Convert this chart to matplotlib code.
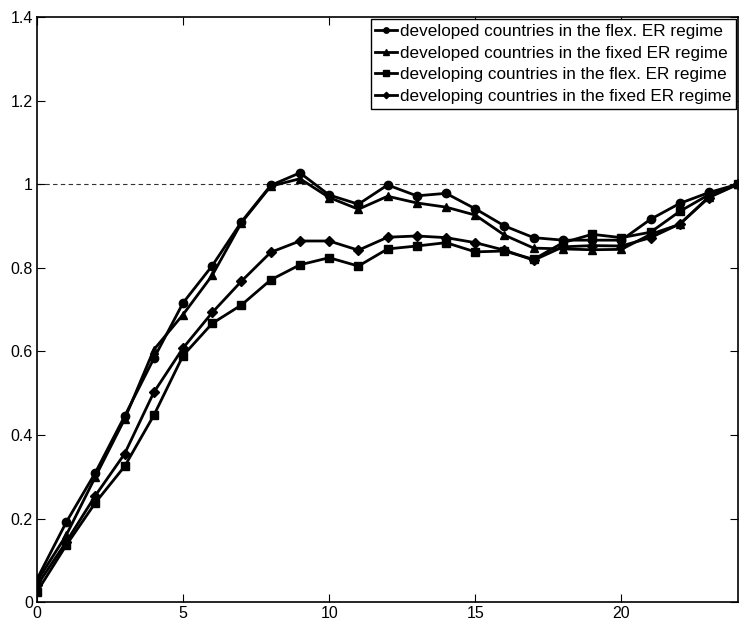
import matplotlib
matplotlib.use('Agg')
import matplotlib.pyplot as plt
from matplotlib.ticker import FixedLocator, FixedFormatter

plt.rcParams['font.family'] = ['Liberation Sans', 'DejaVu Sans']

# =============================================================================
# data
# =============================================================================
horizon = list(range(25))

dev_flex = [0.055, 0.191, 0.31, 0.445, 0.583, 0.716, 0.805, 0.91, 0.997, 1.027,
            0.974, 0.952, 0.998, 0.972, 0.978, 0.941, 0.900, 0.872, 0.866, 0.866,
            0.866, 0.916, 0.954, 0.980, 1.0]
dev_fixed = [0.05, 0.160, 0.30, 0.438, 0.604, 0.688, 0.782, 0.908, 0.995, 1.013,
             0.968, 0.940, 0.971, 0.955, 0.945, 0.926, 0.878, 0.847, 0.845, 0.843,
             0.844, 0.880, 0.904, 0.970, 1.0]
dvg_flex = [0.025, 0.136, 0.238, 0.325, 0.447, 0.590, 0.667, 0.711, 0.771, 0.807,
            0.824, 0.804, 0.845, 0.852, 0.860, 0.838, 0.840, 0.820, 0.860, 0.880,
            0.872, 0.885, 0.935, 0.975, 1.0]
dvg_fixed = [0.04, 0.144, 0.255, 0.355, 0.502, 0.608, 0.693, 0.768, 0.837, 0.864,
             0.864, 0.842, 0.873, 0.876, 0.872, 0.860, 0.842, 0.818, 0.850, 0.853,
             0.852, 0.872, 0.905, 0.968, 1.0]

labels = ['developed countries in the flex. ER regime',
          'developed countries in the fixed ER regime',
          'developing countries in the flex. ER regime',
          'developing countries in the fixed ER regime']
markers = ['o', '^', 's', 'D']

x_ticks = [0, 5, 10, 15, 20]
y_ticks = [0, 0.2, 0.4, 0.6, 0.8, 1.0, 1.2, 1.4]
y_tick_labels = ['0', '0.2', '0.4', '0.6', '0.8', '1', '1.2', '1.4']

# =============================================================================
# plot
# =============================================================================
fig = plt.figure(figsize=(7.39, 6.26), dpi=100)
ax = fig.add_axes([0.050, 0.038, 0.949, 0.935])

ax.axhline(1.0, color='#333333', lw=0.8, ls=(0, (4, 3)), zorder=1)

series = [dev_flex, dev_fixed, dvg_flex, dvg_fixed]
for vals, lab, mk in zip(series, labels, markers):
    ms = 5 if mk == 'D' else 6
    ax.plot(horizon, vals, color='black', lw=2, marker=mk, ms=ms,
            markerfacecolor='black', label=lab, zorder=3)

ax.set_xlim(0, 24)
ax.set_ylim(0, 1.4)
ax.xaxis.set_major_locator(FixedLocator(x_ticks))
ax.yaxis.set_major_locator(FixedLocator(y_ticks))
ax.yaxis.set_major_formatter(FixedFormatter(y_tick_labels))
ax.tick_params(direction='in', top=True, right=True, length=6, width=0.8,
               labelsize=11.5, pad=3)
for s in ax.spines.values():
    s.set_linewidth(1.2)

leg = ax.legend(loc='upper right', fontsize=12.3, handlelength=1.3,
                handletextpad=0.15, borderpad=0.25, labelspacing=0.4,
                borderaxespad=0.15, fancybox=False, framealpha=1,
                edgecolor='black', markerscale=0.65)
leg.get_frame().set_linewidth(1.0)

plt.savefig('out.png', dpi=100)
